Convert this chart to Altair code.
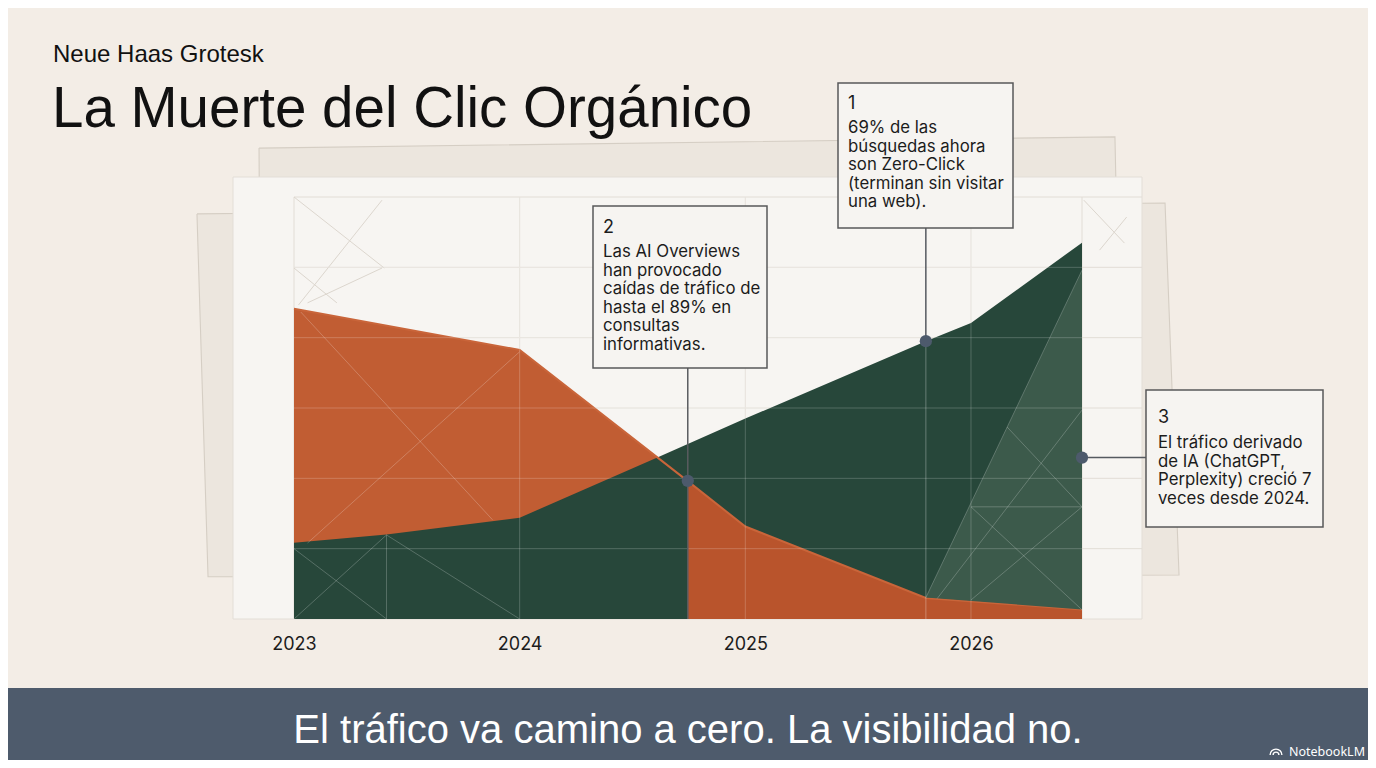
import altair as alt
import pandas as pd

# ---------------- data ----------------
years_org = [2023, 2024, 2024.745, 2025, 2025.8, 2026.492]
org_pct = [68.2, 56.5, 19.2, 6.3, -14.0, -17.3]

years_ai = [2023, 2023.41, 2024, 2024.61, 2025, 2025.8, 2026, 2026.492]
ai_pct = [1.7, 4.0, 8.8, 25.9, 37.0, 59.0, 64.2, 87.0]

light_years = [2025.8, 2026.492]
light_top = [-13.9, 79.2]
light_bottom = [-13.9, -17.3]

x_ticks = [2023, 2024, 2025, 2026]
y_ticks = [0, 20, 40, 60, 80, 100]
x_grid = [2023, 2024, 2025, 2026, 2026.492]

ann_num = ["1", "2", "3"]
ann_year = [2025.8, 2024.745, 2026.492]
ann_pct = [59.0, 19.3, 25.9]
ann_lines = [
    ["69% de las", "búsquedas ahora", "son Zero-Click", "(terminan sin visitar", "una web)."],
    ["Las AI Overviews", "han provocado", "caídas de tráfico de", "hasta el 89% en", "consultas", "informativas."],
    ["El tráfico derivado", "de IA (ChatGPT,", "Perplexity) creció 7", "veces desde 2024."],
]

# decorative hairlines (year, pct) -> (year, pct)
deco_gray_x1 = [2023.0, 2023.39, 2023.39, 2023.0, 2026.50, 2026.69]
deco_gray_y1 = [100.0, 99.1, 79.8, 79.8, 99.1, 94.3]
deco_gray_x2 = [2023.40, 2023.02, 2023.06, 2023.19, 2026.68, 2026.57]
deco_gray_y2 = [79.8, 69.3, 69.9, 69.9, 86.9, 84.9]

deco_white_x1 = [2023.03, 2024.0, 2023.0, 2023.0, 2023.41, 2023.41, 2025.80, 2025.85, 2026.16, 2026.0, 2026.0, 2026.0]
deco_white_y1 = [67.3, 56.0, 0.0, -20.0, 3.9, 3.9, -13.9, -14.2, 34.6, 11.9, -14.6, 11.9]
deco_white_x2 = [2023.88, 2023.06, 2023.41, 2023.41, 2023.41, 2024.0, 2026.492, 2026.492, 2026.492, 2026.492, 2026.492, 2026.492]
deco_white_y2 = [8.2, 1.6, -20.0, 3.9, -20.0, -20.0, 79.2, 39.4, 11.9, -17.4, 11.9, 11.9]

# tilted paper sheets behind the panel (corners, in year / pct units)
frame_id = ["a"] * 5 + ["b"] * 5
frame_ord = [0, 1, 2, 3, 4] * 2
frame_x = [2022.845, 2026.638, 2026.682, 2022.858, 2022.845,
           2022.570, 2026.860, 2026.922, 2022.619, 2022.570]
frame_y = [113.9, 117.1, -17.5, -18.9, 113.9,
           95.2, 98.3, -7.5, -8.0, 95.2]

TITLE = "La Muerte del Clic Orgánico"
SUBTITLE = "Neue Haas Grotesk"
FOOTER = "El tráfico va camino a cero. La visibilidad no."
BRAND = "NotebookLM"

# ---------------- tables ----------------
org_df = pd.DataFrame({"year": years_org, "pct": org_pct})
org_late_df = org_df[org_df["year"] >= 2024.745]
ai_df = pd.DataFrame({"year": years_ai, "pct": ai_pct})
light_df = pd.DataFrame({"year": light_years, "pct": light_top, "bottom": light_bottom})
ygrid_df = pd.DataFrame({"pct": y_ticks})
ygrid_w_df = pd.DataFrame({"pct": y_ticks[:-1]})
xgrid_df = pd.DataFrame({"year": x_grid})
xgrid_w_df = pd.DataFrame({"year": x_ticks[1:]})
ann_df = pd.DataFrame({"num": ann_num, "year": ann_year, "pct": ann_pct})
deco_g_df = pd.DataFrame({"year": deco_gray_x1, "pct": deco_gray_y1, "year2": deco_gray_x2, "pct2": deco_gray_y2})
deco_w_df = pd.DataFrame({"year": deco_white_x1, "pct": deco_white_y1, "year2": deco_white_x2, "pct2": deco_white_y2})
frame_df = pd.DataFrame({"f": frame_id, "o": frame_ord, "year": frame_x, "pct": frame_y})
one = pd.DataFrame({"k": [0]})

FONT_UI = "Inter"
FONT_HEAD = "Liberation Sans"
INK = "#1c1c1c"
W, H = 788, 422


def X(field="year"):
    return alt.X(f"{field}:Q",
                 scale=alt.Scale(domain=[2023, 2026.492], nice=False, zero=False),
                 axis=alt.Axis(values=x_ticks, format="d", title=None, domain=False, ticks=False,
                               grid=False, labelFont=FONT_UI, labelFontSize=18, labelColor=INK,
                               labelPadding=16, labelFlush=False))


def Y(field="pct"):
    return alt.Y(f"{field}:Q",
                 scale=alt.Scale(domain=[-20, 100], nice=False, zero=False),
                 axis=alt.Axis(values=y_ticks, labelExpr="datum.value + '%'", title=None,
                               domain=False, ticks=False, grid=False, labelFont=FONT_UI,
                               labelFontSize=15, labelColor=INK, labelPadding=11))


BASE = alt.Y2(datum=-20)


def rect(x, x2, y, y2, **kw):
    return alt.Chart(one).mark_rect(**kw).encode(
        x=alt.value(x), x2=alt.value(x2), y=alt.value(y), y2=alt.value(y2))


def text(x, y, t, **kw):
    return alt.Chart(one).mark_text(**kw).encode(x=alt.value(x), y=alt.value(y), text=alt.value(t))


def arc(x, y, r1, r2):
    return alt.Chart(one).mark_arc(color="white").encode(
        x=alt.value(x), y=alt.value(y), radius=alt.value(r2), radius2=alt.value(r1),
        theta=alt.value(4.712), theta2=alt.value(7.854))


frames = alt.Chart(frame_df).mark_line(fill="#ece6de", stroke="#d5cec4", strokeWidth=1.1).encode(
    x=X(), y=Y(), detail="f:N", order="o:Q")

panel = rect(-61, 848, -20, H, fill="#f7f5f2", stroke="#e3ded7", strokeWidth=1)

grid_h = alt.Chart(ygrid_df).mark_rule(color="#e2ddd6", strokeWidth=1).encode(
    y=Y(), x=alt.value(0), x2=alt.value(848))
grid_v = alt.Chart(xgrid_df).mark_rule(color="#e2ddd6", strokeWidth=1).encode(
    x=X(), y=alt.value(0), y2=alt.value(H))
deco_gray = alt.Chart(deco_g_df).mark_rule(color="#dcd6ce", strokeWidth=1).encode(
    x=X(), y=Y(), x2="year2:Q", y2="pct2:Q")

org_area = alt.Chart(org_df).mark_area(color="#c15d33").encode(x=X(), y=Y(), y2=BASE)
ai_area = alt.Chart(ai_df).mark_area(color="#27473a").encode(x=X(), y=Y(), y2=BASE)
org_late = alt.Chart(org_late_df).mark_area(color="#b9542c").encode(x=X(), y=Y(), y2=BASE)
org_line = alt.Chart(org_df).mark_line(color="#c9653a", strokeWidth=2).encode(x=X(), y=Y())
light = alt.Chart(light_df).mark_area(color="#3c5a4b").encode(x=X(), y=Y(), y2="bottom:Q")

wgrid_h = alt.Chart(ygrid_w_df).mark_rule(color="white", opacity=0.2, strokeWidth=1).encode(
    y=Y(), x=alt.value(0), x2=alt.value(W))
wgrid_v = alt.Chart(xgrid_w_df).mark_rule(color="white", opacity=0.2, strokeWidth=1).encode(
    x=X(), y=alt.value(0), y2=alt.value(H))
deco_white = alt.Chart(deco_w_df).mark_rule(color="white", opacity=0.22, strokeWidth=1).encode(
    x=X(), y=Y(), x2="year2:Q", y2="pct2:Q")

# connectors
c1a = alt.Chart(ann_df.iloc[[0]]).mark_rule(color="#555a60", strokeWidth=1.5).encode(
    x=X(), y=alt.value(31), y2=alt.value(145))
c1b = alt.Chart(ann_df.iloc[[0]]).mark_rule(color="white", opacity=0.25, strokeWidth=1.2).encode(
    x=X(), y=alt.value(145), y2=alt.value(H))
c2 = alt.Chart(ann_df.iloc[[1]]).mark_rule(color="#5a5c60", strokeWidth=1.5).encode(
    x=X(), y=alt.value(171), y2=alt.value(H))
c3 = alt.Chart(ann_df.iloc[[2]]).mark_rule(color="#555a60", strokeWidth=1.5).encode(
    y=Y(), x=alt.value(789), x2=alt.value(852))
dots = alt.Chart(ann_df).mark_circle(size=150, color="#4d5a6c", opacity=1).encode(x=X(), y=Y())

box_style = dict(fill="#f6f4f1", stroke="#58585a", strokeWidth=1.5)
boxes = [
    rect(544, 719, -114, 31, **box_style),
    rect(299, 473, 9, 171, **box_style),
    rect(852, 1029, 193, 330, **box_style),
]
num_style = dict(align="left", baseline="alphabetic", font=FONT_UI, fontSize=18, color=INK)
body_style = dict(align="left", baseline="alphabetic", font=FONT_UI, fontSize=16.8, color=INK, lineHeight=18.6)
ann_texts = [
    text(554, -88, ann_num[0], **num_style), text(554, -64, ann_lines[0], **body_style),
    text(309, 36, ann_num[1], **num_style), text(309, 60, ann_lines[1], **body_style),
    text(864, 226, ann_num[2], **num_style), text(864, 251, ann_lines[2], **body_style),
]

titles = [
    text(-241, -135, SUBTITLE, align="left", baseline="alphabetic", font=FONT_HEAD, fontSize=24, color="#111111"),
    text(-242, -70, TITLE, align="left", baseline="alphabetic", font=FONT_HEAD, fontSize=56.5, color="#111111"),
]

band = rect(-300, 1100, 491, 600, fill="#4e5b6c")
footer = text(394, 546, FOOTER, align="center", baseline="alphabetic", font=FONT_HEAD, fontSize=40, color="white")
brand = text(1071, 559, BRAND, align="right", baseline="alphabetic", font="Noto Sans", fontSize=12.5, color="white")
logo = [arc(982, 558, 2.2, 3.6), arc(982, 558, 5.2, 6.6)]

chart = alt.layer(
    frames, panel, grid_h, grid_v, deco_gray,
    org_area, ai_area, org_late, org_line, light,
    wgrid_h, wgrid_v, deco_white,
    c1a, c1b, c2, c3, dots,
    *boxes, *ann_texts, *titles, band, footer, brand, *logo,
).properties(
    width=W, height=H,
    padding={"left": 286, "top": 189, "right": 286, "bottom": 141},
    autosize=alt.AutoSizeParams(type="none"),
    background="#f3ede6",
).configure_view(stroke=None)

chart.save("out.html", embed_options={"renderer": "svg", "actions": False})
